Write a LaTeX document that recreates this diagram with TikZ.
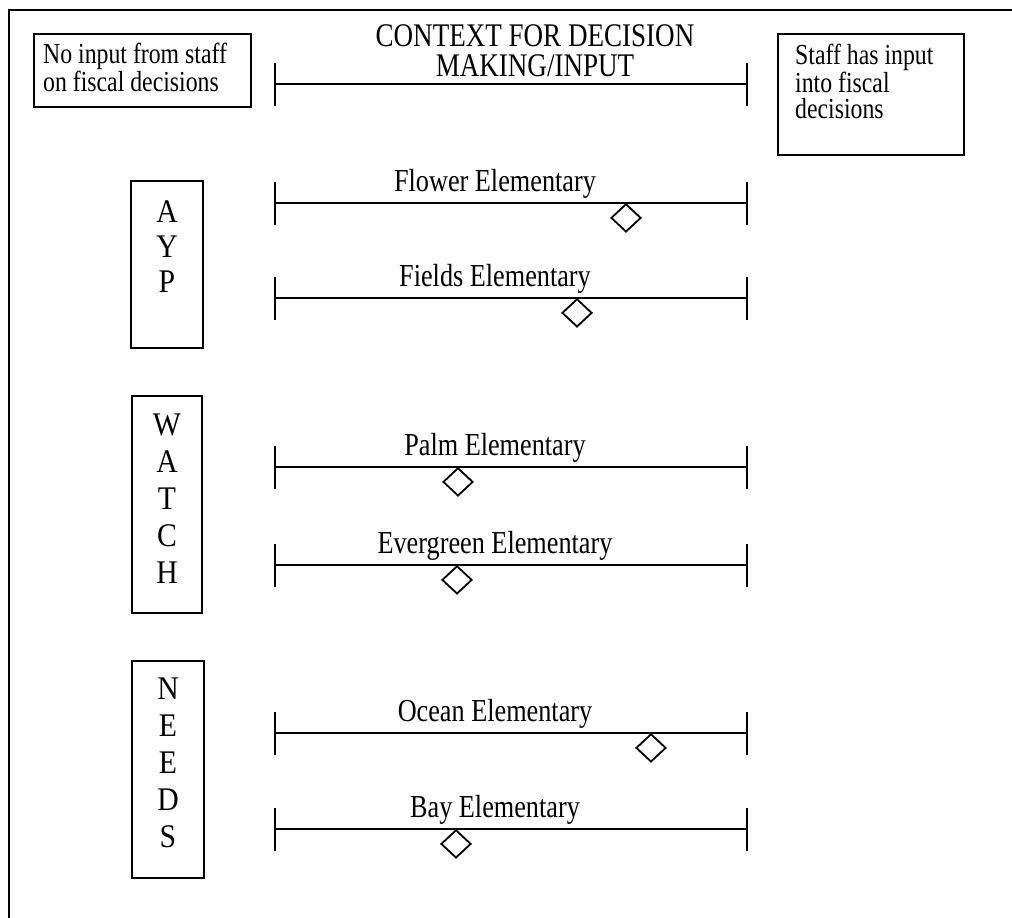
\documentclass[tikz,border=0pt]{standalone}
\usepackage{fontspec}
\setmainfont{Liberation Serif}[FakeStretch=0.82]
\newfontfamily\letterfont{Liberation Serif}[FakeStretch=0.9]
\usetikzlibrary{shapes.geometric}
\tikzset{
  frameline/.style={line width=2.2pt},
  boxshape/.style={draw, line width=1.8pt, inner sep=0pt, rectangle},
  scaleline/.style={line width=2.2pt},
  tickline/.style={line width=1.8pt},
  diam/.style={draw, diamond, line width=1.8pt, minimum width=30pt, minimum height=28pt, inner sep=0pt, anchor=north},
  school/.style={font=\fontsize{32}{37}\selectfont, anchor=base, inner sep=0pt},
  boxtext/.style={font=\fontsize{29}{26.5}\selectfont, align=left, inner sep=0pt, anchor=north west},
  vletters/.style={font=\letterfont\fontsize{33}{37}\selectfont, align=center, inner sep=0pt, anchor=north},
}
\begin{document}
\begin{tikzpicture}[x=1pt,y=-1pt]
\useasboundingbox (0,0) rectangle (1012,918);
% outer frame (only top and left edges visible)
\coordinate (fTR) at (1012,10);
\coordinate (fTL) at (9,10);
\coordinate (fBL) at (9,918);
\draw[frameline] (fTR) -- (fTL) -- (fBL);

% corner boxes
\node[boxshape, minimum width=217pt, minimum height=73pt] (nobox) at (142.5,70.5) {};
\node[boxtext] (notext) at (43,43) {No input from staff\\on fiscal decisions};
\node[boxshape, minimum width=186pt, minimum height=121pt] (staffbox) at (871,94.5) {};
\node[boxtext] (stafftext) at (795,44) {Staff has input\\into fiscal\\decisions};

% title
\node[font=\fontsize{33}{30}\selectfont, align=center, inner sep=0pt] (title) at (535,51) {CONTEXT FOR DECISION\\MAKING/INPUT};

% top scale
\coordinate (Ltop) at (275,84);
\coordinate (Rtop) at (747,84);
\coordinate (Ltopa) at (275,63);
\coordinate (Ltopb) at (275,106);
\coordinate (Rtopa) at (747,63);
\coordinate (Rtopb) at (747,106);
\draw[scaleline] (Ltop) -- (Rtop);
\draw[tickline] (Ltopa) -- (Ltopb);
\draw[tickline] (Rtopa) -- (Rtopb);

% category boxes
\node[boxshape, minimum width=72pt, minimum height=167pt, anchor=north] (aypbox) at (167,180) {};
\node[vletters, font=\letterfont\fontsize{33}{35}\selectfont] (ayp) at (167,201) {A\\Y\\P};
\node[boxshape, minimum width=70pt, minimum height=217pt, anchor=north] (watchbox) at (167,395) {};
\node[vletters] (watch) at (167,414) {W\\A\\T\\C\\H};
\node[boxshape, minimum width=72pt, minimum height=217pt, anchor=north] (needsbox) at (168,660) {};
\node[vletters] (needs) at (168,678) {N\\E\\E\\D\\S};

% school scales
\foreach \n/\y/\d/\lab in {fl/203/626/Flower Elementary, fi/298/577/Fields Elementary, pa/467/458/Palm Elementary, ev/565/457/Evergreen Elementary, oc/733/651/Ocean Elementary, ba/829/456/Bay Elementary}{
  \coordinate (L\n) at (275,\y);
  \coordinate (R\n) at (747,\y);
  \coordinate (L\n a) at (275,\y-21);
  \coordinate (L\n b) at (275,\y+22);
  \coordinate (R\n a) at (747,\y-21);
  \coordinate (R\n b) at (747,\y+22);
  \draw[scaleline] (L\n) -- (R\n);
  \draw[tickline] (L\n a) -- (L\n b);
  \draw[tickline] (R\n a) -- (R\n b);
  \node[diam] (D\n) at (\d,\y) {};
  \node[school] (T\n) at (495,\y-12) {\lab};
}
\end{tikzpicture}
\end{document}
